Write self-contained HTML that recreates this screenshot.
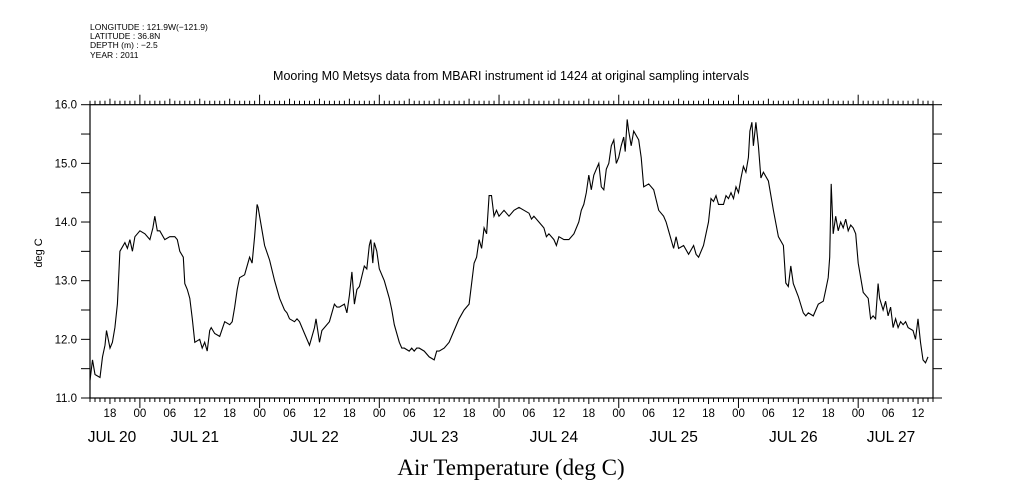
<!DOCTYPE html>
<html><head><meta charset="utf-8"><style>
html,body{margin:0;padding:0;background:#fff;}
svg{display:block;font-family:"Liberation Sans",sans-serif;}
</style></head><body>
<svg id="chart" width="1009" height="504" viewBox="0 0 1009 504">
<g font-size="8.5" fill="#000">
<text x="90" y="30">LONGITUDE : 121.9W(−121.9)</text>
<text x="90" y="39">LATITUDE : 36.8N</text>
<text x="90" y="48">DEPTH (m) : −2.5</text>
<text x="90" y="58">YEAR : 2011</text>
</g>
<text x="511" y="80" text-anchor="middle" font-size="12.5">Mooring M0 Metsys data from MBARI instrument id 1424 at original sampling intervals</text>
<text transform="translate(42,253) rotate(-90)" text-anchor="middle" font-size="11">deg C</text>
<text x="511" y="475" text-anchor="middle" font-family="Liberation Serif, serif" font-size="23">Air Temperature (deg C)</text>
<rect x="90" y="104.7" width="843" height="293.3" fill="none" stroke="#000" stroke-width="1.2"/>
<g id="axes"></g>
<path id="series" fill="none" stroke="#000" stroke-width="1.1"/>
</svg>
<script>
// hours since Jul 20 14:00, and temperatures (deg C)
const hours = [0,0.5,1,2,2.5,3,3.3,4,4.5,5,5.5,6,7,7.5,8,8.5,9,10,11,12,12.6,13,13.5,14,15,16,17,17.5,18,18.7,19,19.5,20,20.5,21,22,22.5,23,23.5,24,24.3,25,26,27,28,28.5,29,29.5,30,31,32,32.5,33,33.5,33.7,34.3,35,36,37,38,39,39.5,40,41,41.5,42,43,44,45,45.3,46,46.5,47,48,49,49.5,50,51,51.5,52,52.5,53,53.5,54,55,55.5,56,56.3,56.7,57,57.5,58,59,60,60.5,61,62,62.5,63,64,64.5,65,65.5,66,67,68,69,69.5,70,71,72,73,74,75,76,77,77.5,78,78.5,79,79.5,80,80.5,81,81.5,82,83,84,85,86,87,88,88.5,89,90,91,91.5,92,93,93.5,94,95,96,97,98,98.5,99,99.5,100,100.5,101,101.5,102,102.5,103,103.5,104,104.5,105,105.5,106,106.5,107,107.3,107.7,108,108.5,109,110,110.5,111,112,113,114,115,115.5,116,116.5,117,117.5,118,119,120,121,121.5,122,123,124,124.5,125,125.5,126,127,127.5,128,128.5,129,129.5,130,130.5,131,131.5,132,132.3,132.7,133,133.5,134,134.5,135,136,137,138,139,139.5,140,140.5,141,142,143,143.5,144,145,146,147,147.5,148,148.3,148.6,149,149.5,150,150.5,151,151.5,152,152.5,153,153.5,154,155,156,156.5,157,157.5,158,158.3,159,159.5,160,160.5,161,161.5,162,162.5,163,163.5,164,165,165.5,166,166.5,167,167.5,168,168.5];
const temps = [11.3,11.65,11.4,11.35,11.7,11.9,12.15,11.85,11.95,12.2,12.6,13.5,13.65,13.55,13.7,13.5,13.75,13.85,13.8,13.7,13.9,14.1,13.85,13.85,13.7,13.75,13.75,13.7,13.5,13.4,12.95,12.85,12.7,12.35,11.95,12.0,11.85,11.95,11.8,12.15,12.2,12.1,12.05,12.3,12.25,12.3,12.55,12.85,13.05,13.1,13.4,13.3,13.75,14.3,14.25,13.95,13.6,13.35,13.0,12.7,12.5,12.45,12.35,12.3,12.35,12.3,12.1,11.9,12.2,12.35,11.95,12.15,12.2,12.3,12.6,12.55,12.55,12.6,12.45,12.75,13.15,12.6,12.85,12.9,13.25,13.2,13.6,13.7,13.3,13.65,13.5,13.2,13.0,12.7,12.5,12.25,11.95,11.85,11.85,11.8,11.85,11.8,11.85,11.85,11.8,11.7,11.65,11.8,11.8,11.85,11.95,12.15,12.35,12.5,12.6,13.3,13.4,13.7,13.55,13.9,13.8,14.45,14.45,14.1,14.2,14.1,14.2,14.1,14.2,14.25,14.2,14.15,14.05,14.1,14.0,13.9,13.75,13.8,13.7,13.6,13.75,13.7,13.7,13.8,14.0,14.2,14.3,14.5,14.8,14.55,14.8,14.9,15.0,14.6,14.55,14.9,15.0,15.3,15.4,15.0,15.1,15.3,15.45,15.2,15.75,15.55,15.3,15.55,15.4,15.1,14.6,14.65,14.55,14.2,14.1,14.0,13.85,13.7,13.55,13.75,13.55,13.6,13.45,13.6,13.45,13.4,13.6,14.0,14.4,14.35,14.45,14.3,14.3,14.45,14.4,14.5,14.4,14.6,14.5,14.75,14.95,14.85,15.1,15.55,15.7,15.3,15.7,15.3,14.75,14.85,14.7,14.2,13.75,13.6,12.96,12.9,13.25,12.95,12.73,12.45,12.4,12.45,12.4,12.6,12.65,12.85,13.05,13.4,14.65,13.8,14.1,13.85,14.0,13.9,14.05,13.85,13.95,13.9,13.8,13.3,12.8,12.7,12.35,12.4,12.35,12.95,12.7,12.5,12.65,12.4,12.55,12.2,12.35,12.2,12.3,12.25,12.3,12.2,12.15,12.0,12.35,11.95,11.65,11.6,11.7];
const yTicks = [11,12,13,14,15,16];
const hourLabels = ["18","00","06","12"];
const dayLabels = ["JUL 20","JUL 21","JUL 22","JUL 23","JUL 24","JUL 25","JUL 26","JUL 27"];

const X0=90, X1=933, Y0=398, Y1=104.7, HMAX=169;
const xs = h => X0 + (X1-X0)*h/HMAX;
const ys = v => Y0 - (Y0-Y1)*(v-11)/5;
const NS="http://www.w3.org/2000/svg";
const axes=document.getElementById('axes');
function line(x1,y1,x2,y2,name){
  const l=document.createElementNS(NS,'line');
  l.setAttribute('x1',x1);l.setAttribute('y1',y1);l.setAttribute('x2',x2);l.setAttribute('y2',y2);
  l.setAttribute('stroke','#000');l.setAttribute('stroke-width','1');
  
  
  axes.appendChild(l);
}
function text(x,y,s,size,anchor,name){
  const t=document.createElementNS(NS,'text');
  t.setAttribute('x',x);t.setAttribute('y',y);t.setAttribute('font-size',size);
  t.setAttribute('text-anchor',anchor);t.textContent=s;
  
  
  axes.appendChild(t);
}
for(let v=11; v<=16.001; v+=0.5){
  const y=ys(v);
  line(81,y,90,y,'y-tick-left');
  line(933,y,942,y,'y-tick-right');
}
yTicks.forEach(v=>text(77,ys(v)+4,v.toFixed(1),11.5,'end','y-tick-label'));
for(let h=0; h<=HMAX; h++){
  const x=xs(h);
  const clock=(14+h)%24;
  let len=4;
  if(clock%6===0) len=6;
  if(clock===0) len=10;
  line(x,Y0,x,Y0+len,'x-tick-bottom');
  line(x,Y1,x,Y1-len,'x-tick-top');
  if(clock%6===0){
    text(x,Y0+19,hourLabels[(clock/6+1)%4],11.5,'middle','hour-label');
  }
}
dayLabels.forEach((d,i)=>{
  let c;
  if(i===0) c=112; else if(i===dayLabels.length-1) c=891; else c=xs(22+24*(i-1))-5;
  text(c,Y0+44,d,15.5,'middle','day-label');
});
let dpath='';
hours.forEach((h,i)=>{dpath+=(i?'L':'M')+xs(h).toFixed(1)+','+ys(temps[i]).toFixed(1);});
document.getElementById('series').setAttribute('d',dpath);
</script>
</body></html>
